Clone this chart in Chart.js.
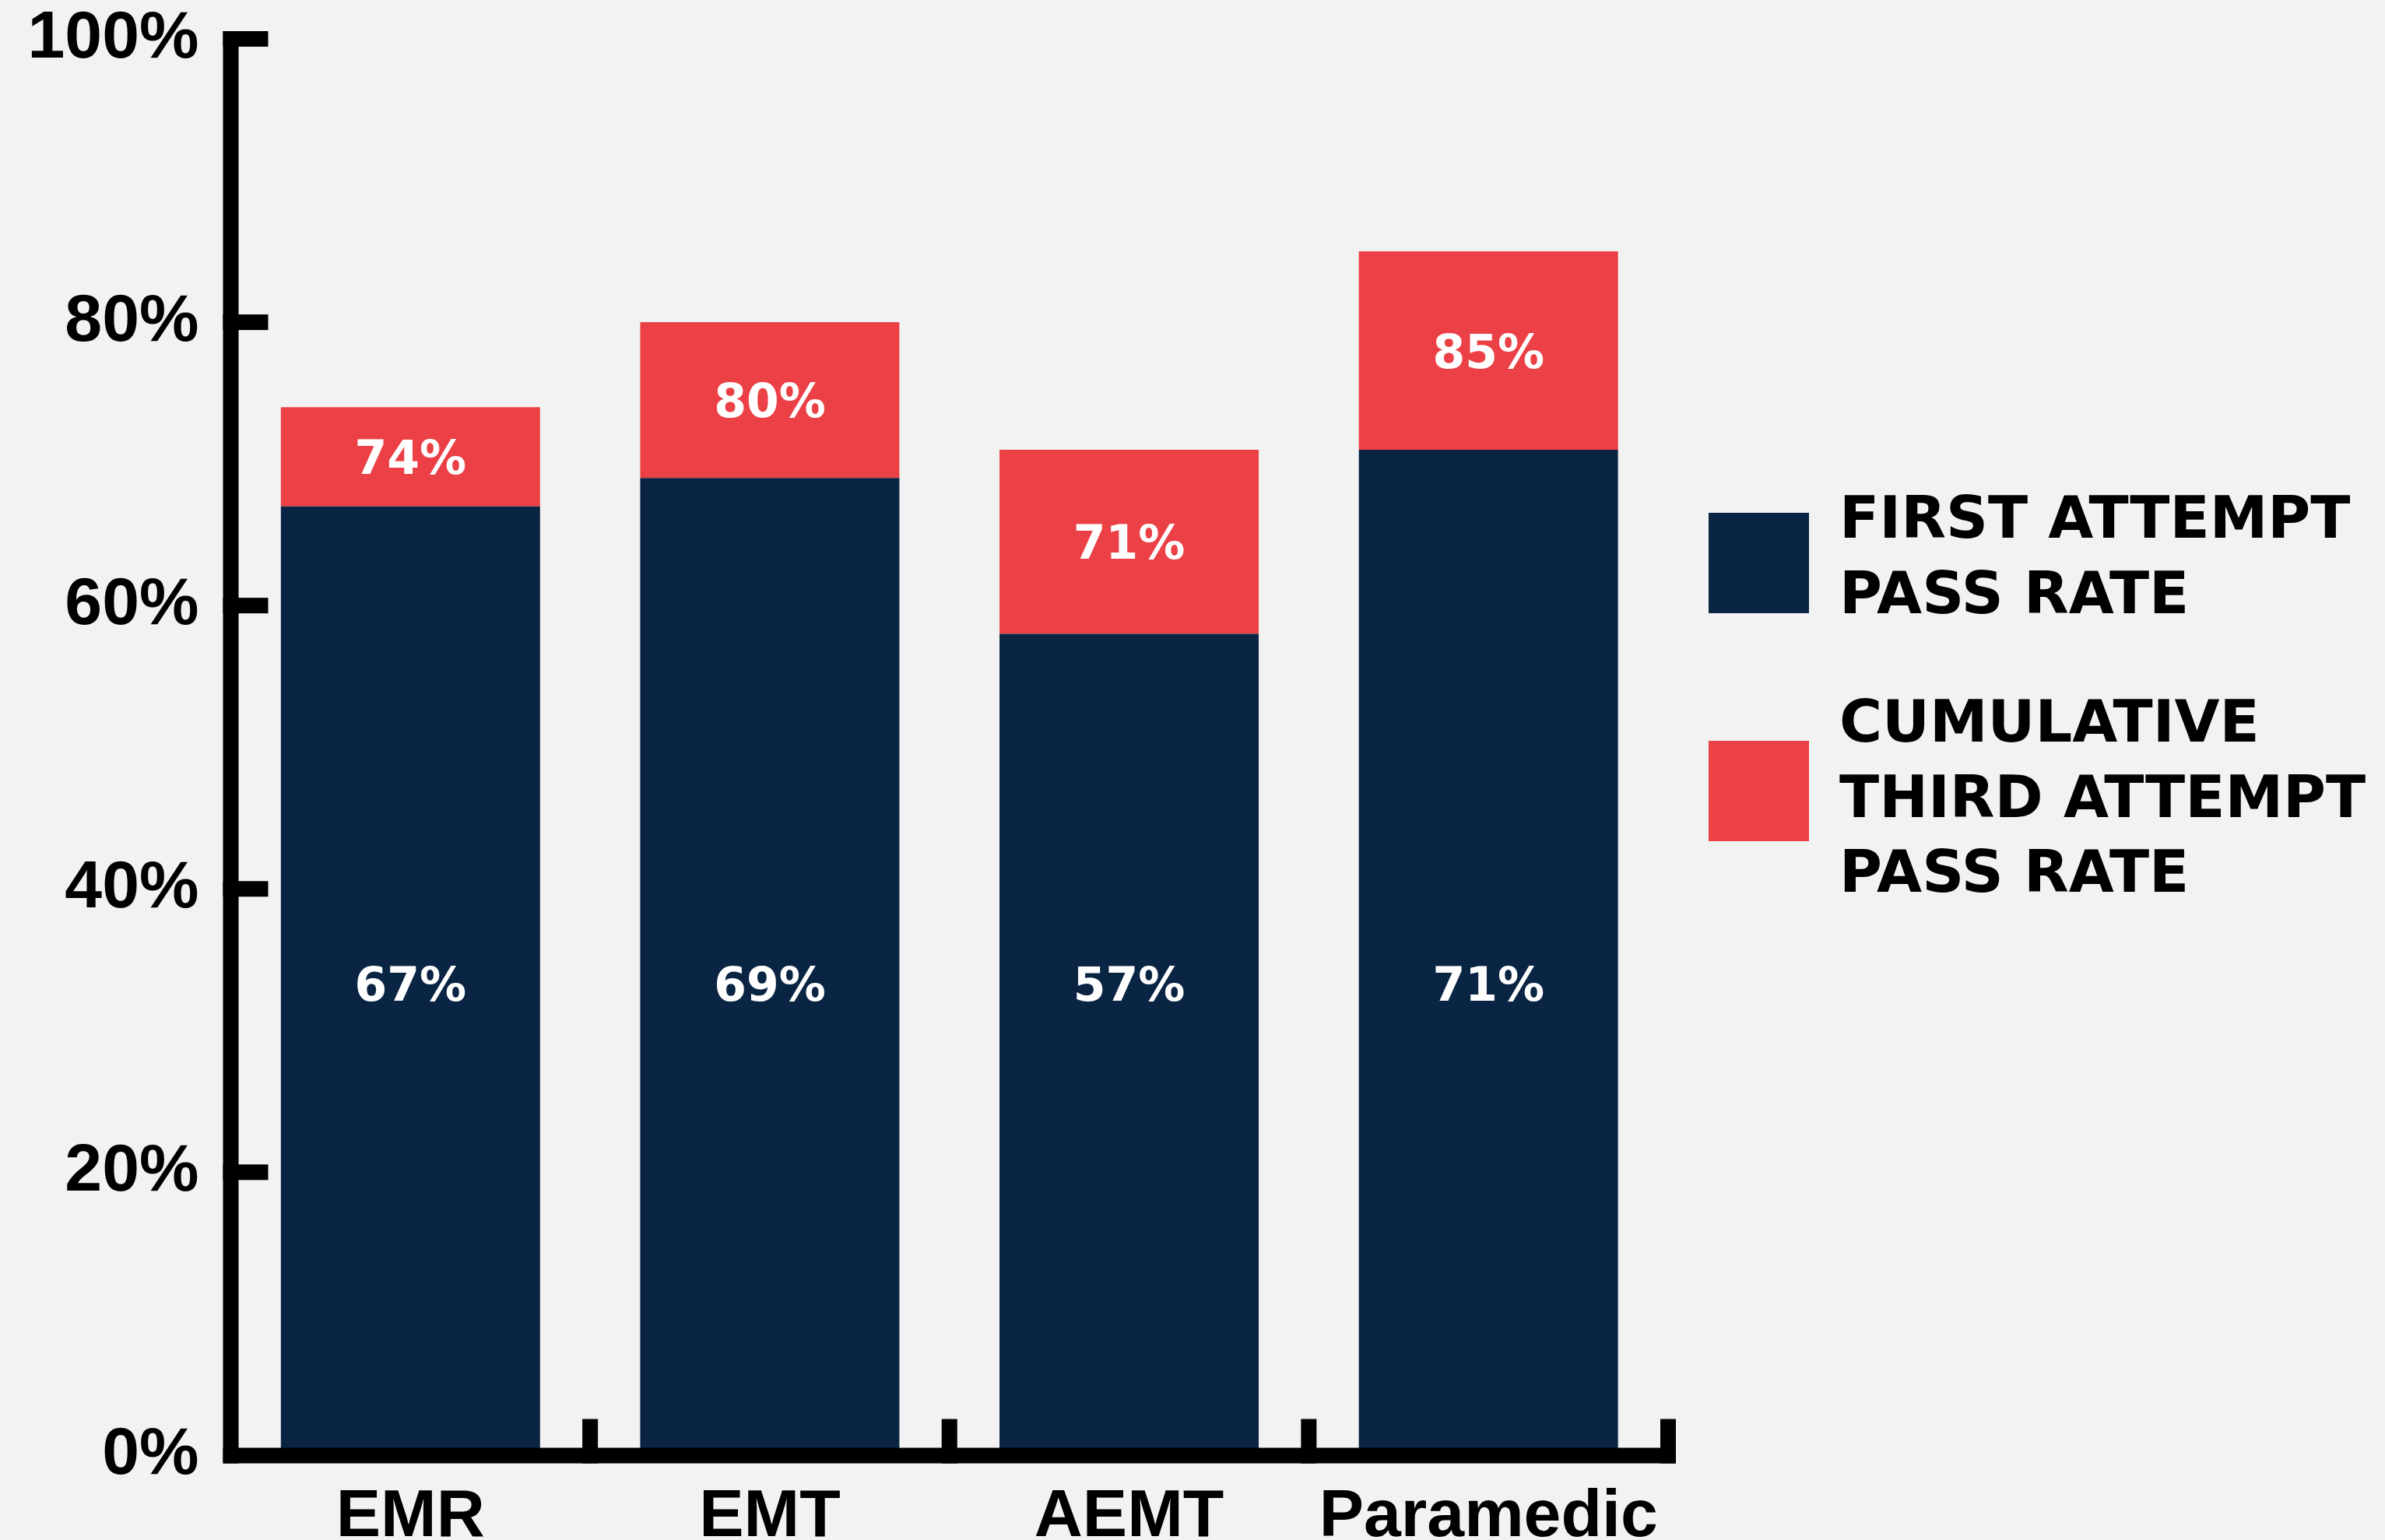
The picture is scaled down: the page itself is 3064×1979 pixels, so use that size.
<!DOCTYPE html>
<html>
<head>
<meta charset="utf-8">
<script src="https://cdn.jsdelivr.net/npm/chart.js@4.4.0/dist/chart.umd.min.js"></script>
<style>
  html, body { margin: 0; padding: 0; background: #f2f2f2; overflow: hidden; }
  #wrap { width: 3064px; height: 1979px; }
</style>
</head>
<body>
<div id="wrap"><canvas id="passChart"></canvas></div>
<script>
const categories = ["EMR", "EMT", "AEMT", "Paramedic"];
const firstAttempt = [67, 69, 58, 71];
const firstAttemptText = ["67%", "69%", "57%", "71%"];
const thirdAttempt = [74, 80, 71, 85];
const yTicks = [0, 20, 40, 60, 80, 100];
const seriesNames = [
  ["FIRST ATTEMPT", "PASS RATE"],
  ["CUMULATIVE", "THIRD ATTEMPT", "PASS RATE"],
];

const NAVY = "#0a2443";
const RED = "#eb4045";
const LINE = 20;
const BLUE_LABEL_AT = 33.3;

// thick black axes with inward tick marks
const axisPlugin = {
  id: "thickAxes",
  afterDatasetsDraw(chart) {
    const { ctx, chartArea, scales: { x, y } } = chart;
    const h = LINE / 2;
    const left = chartArea.left;
    const y0 = y.getPixelForValue(0);
    const yTop = y.getPixelForValue(100);
    const step = x.getPixelForTick(1) - x.getPixelForTick(0);
    const right = x.getPixelForTick(categories.length - 1) + step / 2;

    ctx.save();
    ctx.fillStyle = "#000";
    ctx.fillRect(left - h, yTop - h, LINE, y0 - yTop + LINE);
    ctx.fillRect(left - h, y0 - h, right - left + LINE, LINE);
    yTicks.forEach((v) => {
      if (v === 0) return;
      const p = y.getPixelForValue(v);
      ctx.fillRect(left - h, p - h, 58, LINE);
    });
    for (let i = 0; i < categories.length; i++) {
      const bx = x.getPixelForTick(i) + step / 2;
      ctx.fillRect(bx - h, y0 - 47, LINE, 47 + h);
    }

    // value labels
    ctx.font = "bold 60px 'DejaVu Sans'";
    ctx.fillStyle = "#fff";
    ctx.textAlign = "center";
    ctx.textBaseline = "alphabetic";
    categories.forEach((c, i) => {
      const cx = x.getPixelForValue(i);
      const ry = y.getPixelForValue((firstAttempt[i] + thirdAttempt[i]) / 2);
      ctx.fillText(thirdAttempt[i] + "%", cx, ry + 22);
      ctx.fillText(firstAttemptText[i], cx, y.getPixelForValue(BLUE_LABEL_AT) + 22);
    });
    ctx.restore();
  },
};

const legendPlugin = {
  id: "sideLegend",
  afterDraw(chart) {
    const { ctx } = chart;
    const boxX = 2195, box = 129, textX = 2363;
    const boxTops = [659, 952];
    const baselines = [691, 953];
    ctx.save();
    ctx.font = "bold 75px 'DejaVu Sans'";
    ctx.textAlign = "left";
    ctx.textBaseline = "alphabetic";
    chart.data.datasets.forEach((ds, i) => {
      ctx.fillStyle = ds.backgroundColor;
      ctx.fillRect(boxX, boxTops[i], box, box);
      ctx.fillStyle = "#000";
      seriesNames[i].forEach((line, j) => {
        ctx.fillText(line, textX, baselines[i] + j * 96.5);
      });
    });
    ctx.restore();
  },
};

const tickFont = { family: "'Liberation Sans', Arial, sans-serif", weight: "bold", size: 86, lineHeight: 1.1 };

new Chart(document.getElementById("passChart"), {
  type: "bar",
  data: {
    labels: categories,
    datasets: [
      { label: "First attempt pass rate", data: firstAttempt, backgroundColor: NAVY },
      {
        label: "Cumulative third attempt pass rate",
        data: thirdAttempt.map((v, i) => [firstAttempt[i], v]),
        backgroundColor: RED,
      },
    ],
  },
  options: {
    responsive: true,
    maintainAspectRatio: false,
    animation: false,
    layout: { padding: { top: 50, right: 921, bottom: 0, left: 0 } },
    datasets: { bar: { categoryPercentage: 1, barPercentage: 0.7213, borderWidth: 0 } },
    plugins: { legend: { display: false }, tooltip: { enabled: false } },
    scales: {
      x: {
        stacked: true,
        grid: { display: false },
        border: { display: false },
        ticks: { color: "#000", font: tickFont, padding: 24 },
        afterFit(s) { s.height = 108.5; },
      },
      y: {
        min: 0,
        max: 100,
        grid: { display: false },
        border: { display: false },
        afterBuildTicks(s) { s.ticks = yTicks.map((v) => ({ value: v })); },
        ticks: { color: "#000", font: tickFont, padding: 33, callback: (v) => v + "%" },
        afterFit(s) {
          s.width = 296.5;
          s.paddingTop = 0;
          s.paddingBottom = 0;
        },
      },
    },
  },
  plugins: [axisPlugin, legendPlugin],
});
</script>
</body>
</html>
